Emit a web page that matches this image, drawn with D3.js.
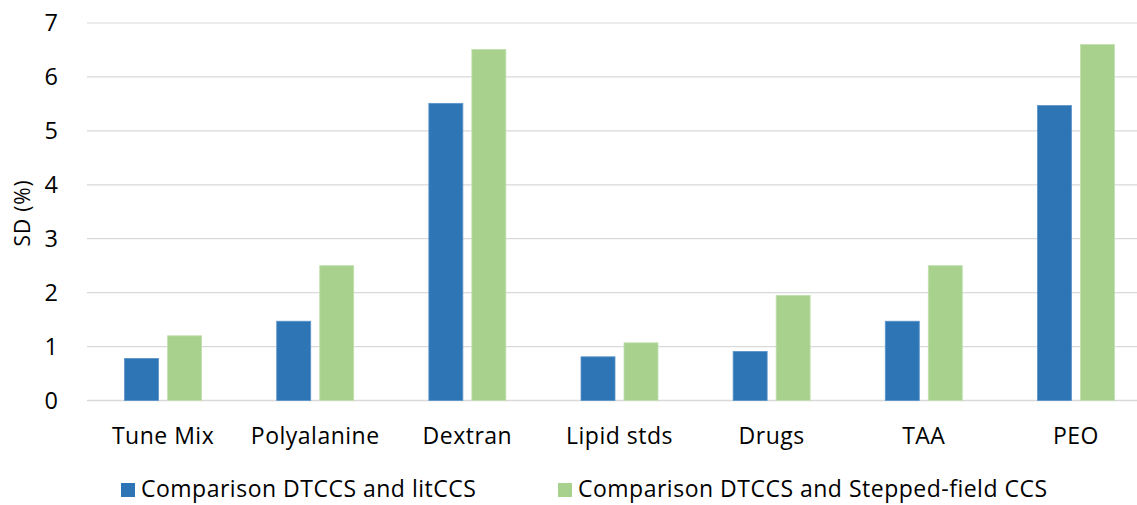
<!DOCTYPE html>
<html><head><meta charset="utf-8">
<script src="https://cdn.jsdelivr.net/npm/d3@7"></script>
<style>body{margin:0;background:#fff;} svg{display:block;font-family:"Open Sans", sans-serif;}</style>
</head><body>
<svg id="c" width="1137" height="505"></svg>
<script>
const categories = ["Tune Mix","Polyalanine","Dextran","Lipid stds","Drugs","TAA","PEO"];
const seriesNames = ["Comparison DTCCS and litCCS","Comparison DTCCS and Stepped-field CCS"];
const litCCS = [0.78, 1.47, 5.51, 0.81, 0.91, 1.47, 5.47];
const steppedCCS = [1.20, 2.50, 6.51, 1.07, 1.95, 2.50, 6.60];
const yTicks = [0,1,2,3,4,5,6,7];
const colors = ["#2E75B6","#A9D18E"];
const FONT = "'Open Sans', sans-serif";

const svg = d3.select("#c");
const x0 = 87, x1 = 1152, yTop = 23, yBot = 400.5;
const x = d3.scaleBand().domain(categories).range([x0, x1]).paddingInner(0).paddingOuter(0);
const y = d3.scaleLinear().domain([0,7]).range([yBot, yTop]);
const barW = 34, gap = 9;
const inner = d3.scaleBand().domain([0,1]).range([0, barW*2+gap]).paddingInner(gap/(barW+gap));

// grid
svg.append("g").selectAll("line").data(yTicks).join("line")
  .attr("x1", x0).attr("x2", 1137).attr("y1", d=>y(d)).attr("y2", d=>y(d))
  .attr("stroke", "#d9d9d9").attr("stroke-width", d=> d===0?1.5:1.2);

// y tick labels
const yAxis = d3.axisLeft(y).tickValues(yTicks).tickFormat(d3.format("d")).tickSize(0).tickPadding(0);
const ya = svg.append("g").attr("transform", `translate(58,0)`).call(yAxis);
ya.select(".domain").remove();
ya.selectAll("text").attr("font-size", 23.5).attr("fill", "#000").attr("font-family", FONT);

// y title
svg.append("text").attr("transform", "translate(22,213) rotate(-90)")
  .attr("text-anchor","middle").attr("dominant-baseline","central")
  .attr("font-size", 21).attr("letter-spacing", 0.8).attr("fill","#000").attr("font-family", FONT).text("SD (%)");

// bars
const data = [litCCS, steppedCCS];
const groups = svg.append("g").selectAll("g").data(categories).join("g")
  .attr("transform", d => `translate(${x(d) + (x.bandwidth() - (barW*2+gap))/2},0)`);
groups.selectAll("rect").data((d,i)=> data.map((s,j)=>({v:s[i], j})))
  .join("rect")
  .attr("x", d=>inner(d.j)).attr("width", inner.bandwidth())
  .attr("y", d=>y(d.v)).attr("height", d=>yBot - y(d.v))
  .attr("fill", d=>colors[d.j])
  .attr("stroke", d=> d.j===0 ? "#5B93C9" : "#C2E0AE").attr("stroke-width", 0.8);

// x labels
const xAxis = d3.axisBottom(x).tickSize(0).tickPadding(0);
const xa = svg.append("g").call(xAxis);
xa.select(".domain").remove();
xa.selectAll("text").attr("y", 444).attr("dy", null).attr("font-size", 23).attr("letter-spacing", 0.5)
  .attr("fill","#000").attr("font-family", FONT);

// legend
const legX = [121, 558];
const leg = svg.append("g").selectAll("g").data(seriesNames).join("g")
  .attr("transform",(d,i)=>`translate(${legX[i]},483)`);
leg.append("rect").attr("width",14).attr("height",14).attr("fill",(d,i)=>colors[i]);
leg.append("text").attr("x",20).attr("y",14).attr("font-size",23).attr("letter-spacing", 0.5)
  .attr("fill","#000").attr("font-family", FONT).text(d=>d);
</script>
</body></html>
